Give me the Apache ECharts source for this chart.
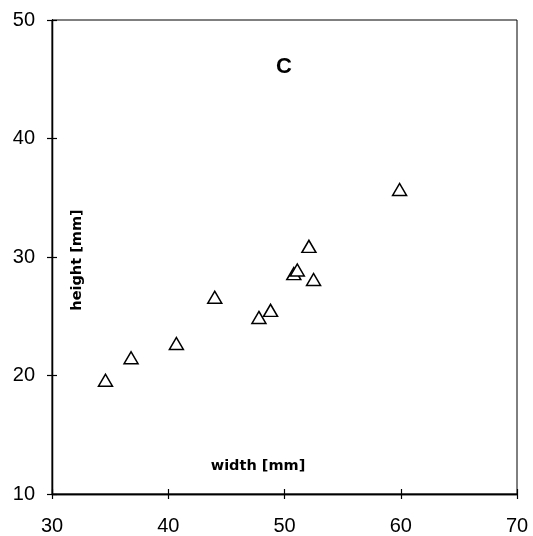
<!DOCTYPE html>
<html>
<head>
<meta charset="utf-8">
<script src="https://cdn.jsdelivr.net/npm/echarts@6/dist/echarts.min.js"></script>
<style>
  html, body { margin: 0; padding: 0; background: #fff; }
  #chart { width: 533px; height: 536px; }
</style>
</head>
<body>
<div id="chart"></div>
<script>
  // width / height of the specimens
  var widthMm = [34.6, 36.8, 40.7, 44.0, 47.8, 48.8, 50.8, 51.1, 52.1, 52.5, 59.9];
  var heightMm = [19.6, 21.5, 22.7, 26.6, 24.9, 25.5, 28.6, 28.9, 30.9, 28.1, 35.7];
  var xTicks = [30, 40, 50, 60, 70];
  var yTicks = [10, 20, 30, 40, 50];

  var points = widthMm.map(function (w, i) { return [w, heightMm[i]]; });

  var chart = echarts.init(document.getElementById('chart'));
  var labelFont = { color: '#000', fontSize: 20, fontFamily: 'Liberation Sans, Arial, sans-serif' };

  function axisBase(min, max, step) {
    return {
      type: 'value',
      min: min,
      max: max,
      interval: step,
      splitLine: { show: false },
      axisLine: { show: true, onZero: false, lineStyle: { color: '#000', width: 1.3 } }
    };
  }

  chart.setOption({
    animation: false,
    grid: {
      left: 52, top: 20, right: 16, bottom: 42,
      show: true, borderColor: '#000', borderWidth: 1, backgroundColor: 'transparent'
    },
    xAxis: [
      Object.assign(axisBase(xTicks[0], xTicks[xTicks.length - 1], 10), {
        axisTick: { show: true, length: 5, lineStyle: { color: '#000', width: 1.2 } },
        axisLabel: Object.assign({ margin: 22 }, labelFont)
      }),
      Object.assign(axisBase(xTicks[0], xTicks[xTicks.length - 1], 10), {
        position: 'bottom',
        axisTick: { show: true, inside: true, length: 5, lineStyle: { color: '#000', width: 1.2 } },
        axisLabel: { show: false }
      })
    ],
    yAxis: [
      Object.assign(axisBase(yTicks[0], yTicks[yTicks.length - 1], 10), {
        axisTick: { show: true, length: 5, lineStyle: { color: '#000', width: 1.2 } },
        axisLabel: Object.assign({ margin: 17 }, labelFont)
      }),
      Object.assign(axisBase(yTicks[0], yTicks[yTicks.length - 1], 10), {
        position: 'left',
        axisTick: { show: true, inside: true, length: 5, lineStyle: { color: '#000', width: 1.2 } },
        axisLabel: { show: false }
      })
    ],
    graphic: [
      {
        type: 'text',
        position: [284, 67],
        style: { text: 'C', align: 'center', verticalAlign: 'middle',
          font: 'bold 22px "Liberation Sans", Arial, sans-serif', fill: '#000' }
      },
      {
        type: 'text',
        position: [258, 466],
        style: { text: 'width [mm]', align: 'center', verticalAlign: 'middle',
          font: 'bold 14.5px "DejaVu Sans", sans-serif', fill: '#000' }
      },
      {
        type: 'text',
        position: [77, 260],
        rotation: Math.PI / 2,
        style: { text: 'height [mm]', align: 'center', verticalAlign: 'middle',
          font: 'bold 14.5px "DejaVu Sans", sans-serif', fill: '#000' }
      }
    ],
    series: [{
      type: 'scatter',
      data: points,
      symbol: 'triangle',
      symbolSize: [14, 12],
      itemStyle: { color: '#fff', borderColor: '#000', borderWidth: 1.5, opacity: 1 }
    }]
  });
</script>
</body>
</html>
